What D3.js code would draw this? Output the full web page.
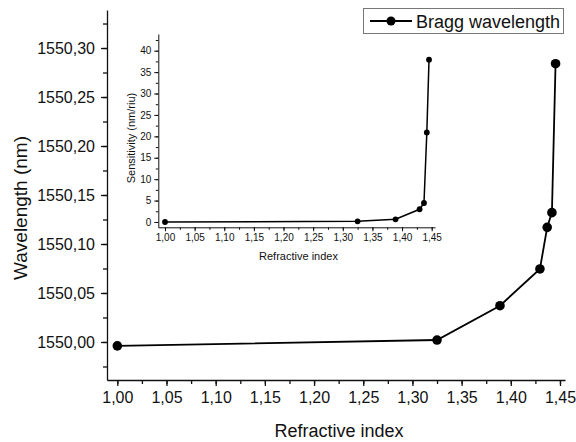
<!DOCTYPE html>
<html><head><meta charset="utf-8">
<script src="https://cdn.jsdelivr.net/npm/d3@7"></script>
<style>body{margin:0;background:#fff}svg{display:block;font-family:Arial,"Liberation Sans",sans-serif}</style>
</head><body>
<script>
// Main chart data
const refractiveIndex = [1.000, 1.325, 1.389, 1.4296, 1.437, 1.4418, 1.4455];
const braggWavelength = [1549.996, 1550.002, 1550.037, 1550.0745, 1550.117, 1550.132, 1550.284];
// Inset data
const insetIndex = [1.000, 1.325, 1.389, 1.4296, 1.437, 1.4418, 1.4455];
const sensitivity = [0.0, 0.15, 0.63, 2.97, 4.44, 20.9, 37.9];
const xTicks = [1.00,1.05,1.10,1.15,1.20,1.25,1.30,1.35,1.40,1.45];
const yTicksMain = [1550.00,1550.05,1550.10,1550.15,1550.20,1550.25,1550.30];
const yTicksInset = [0,5,10,15,20,25,30,35,40];
const legendLabel = "Bragg wavelength";

const W=576,H=442;
const svg=d3.select("body").append("svg").attr("width",W).attr("height",H);
const fmt2 = d => d.toFixed(2).replace(".",",");
const fmtInt = d => String(d);

function drawAxes(g, x, y, opts){
  const xMinor = d3.range(0,(opts.xTicks.length-1)*2+1).map(i=>opts.xTicks[0]+i*(opts.xTicks[1]-opts.xTicks[0])/2);
  const gx=g.append("g").attr("transform",`translate(0,${y.range()[0]})`)
    .call(d3.axisBottom(x).tickValues(xMinor).tickSize(opts.minor).tickFormat(""));
  gx.select(".domain").remove();
  g.append("g").attr("transform",`translate(0,${y.range()[0]})`)
    .call(d3.axisBottom(x).tickValues(opts.xTicks).tickSize(opts.major).tickPadding(opts.pad).tickFormat(fmt2).tickSizeOuter(0))
    .call(a=>a.selectAll("text").attr("font-size",opts.fs).attr("fill","#111"));
  const step=opts.yTicks[1]-opts.yTicks[0];
  const yMinor=[];
  for(let v=opts.yTicks[0]-step; v<=y.domain()[1]+1e-9; v+=step/2){ if(v>=y.domain()[0]) yMinor.push(v); }
  const gy=g.append("g").attr("transform",`translate(${x.range()[0]},0)`)
    .call(d3.axisLeft(y).tickValues(yMinor).tickSize(opts.minor).tickFormat(""));
  gy.select(".domain").remove();
  g.append("g").attr("transform",`translate(${x.range()[0]},0)`)
    .call(d3.axisLeft(y).tickValues(opts.yTicks).tickSize(opts.major).tickPadding(opts.pad).tickFormat(opts.yFmt).tickSizeOuter(0))
    .call(a=>a.selectAll("text").attr("font-size",opts.fs).attr("fill","#111"));
  g.selectAll(".domain").attr("stroke","#111").attr("stroke-width",opts.sw);
  g.selectAll(".tick line").attr("stroke","#111").attr("stroke-width",opts.sw);
}

// Main
const x=d3.scaleLinear().domain([0.9895,1.4551]).range([107,565]);
const y=d3.scaleLinear().domain([1549.9612,1550.3388]).range([380,10]);
const gm=svg.append("g");
drawAxes(gm,x,y,{xTicks,yTicks:yTicksMain,major:6,minor:4,pad:6,fs:16,sw:1.3,yFmt:fmt2});
const line=d3.line().x((d,i)=>x(refractiveIndex[i])).y(d=>y(d));
gm.append("path").datum(braggWavelength).attr("d",line).attr("fill","none").attr("stroke","#000").attr("stroke-width",1.8);
gm.selectAll("circle").data(braggWavelength).join("circle")
  .attr("cx",(d,i)=>x(refractiveIndex[i])).attr("cy",d=>y(d)).attr("r",4.8).attr("fill","#000");
gm.append("text").attr("x",(107+565)/2+3).attr("y",437).attr("text-anchor","middle").attr("font-size",18).attr("fill","#111").text("Refractive index");
gm.append("text").attr("transform","translate(27,208) rotate(-90)").attr("text-anchor","middle").attr("font-size",19).attr("fill","#111").text("Wavelength (nm)");

// Legend
const lg=svg.append("g");
lg.append("rect").attr("x",363.5).attr("y",8.5).attr("width",200).attr("height",25).attr("fill","#fff").attr("stroke","#777").attr("stroke-width",1);
lg.append("line").attr("x1",370).attr("x2",412).attr("y1",21).attr("y2",21).attr("stroke","#000").attr("stroke-width",1.8);
lg.append("circle").attr("cx",391).attr("cy",21).attr("r",4.5).attr("fill","#000");
lg.append("text").attr("x",416).attr("y",27.5).attr("font-size",18).attr("fill","#111").text(legendLabel);

// Inset
const xi=d3.scaleLinear().domain([0.9887,1.4556]).range([158.3,435]);
const yi=d3.scaleLinear().domain([-1.24,43.9]).range([227.3,34]);
const gi=svg.append("g");
drawAxes(gi,xi,yi,{xTicks,yTicks:yTicksInset,major:4,minor:2.5,pad:3,fs:10,sw:1,yFmt:fmtInt});
const linei=d3.line().x((d,i)=>xi(insetIndex[i])).y(d=>yi(d));
gi.append("path").datum(sensitivity).attr("d",linei).attr("fill","none").attr("stroke","#000").attr("stroke-width",1.5);
gi.selectAll("circle").data(sensitivity).join("circle")
  .attr("cx",(d,i)=>xi(insetIndex[i])).attr("cy",d=>yi(d)).attr("r",2.9).attr("fill","#000");
gi.append("text").attr("x",(158+435)/2+2).attr("y",260).attr("text-anchor","middle").attr("font-size",11).attr("fill","#111").text("Refractive index");
gi.append("text").attr("transform","translate(135,138) rotate(-90)").attr("text-anchor","middle").attr("font-size",11).attr("fill","#111").text("Sensitivity (nm/riu)");
</script>
</body></html>
